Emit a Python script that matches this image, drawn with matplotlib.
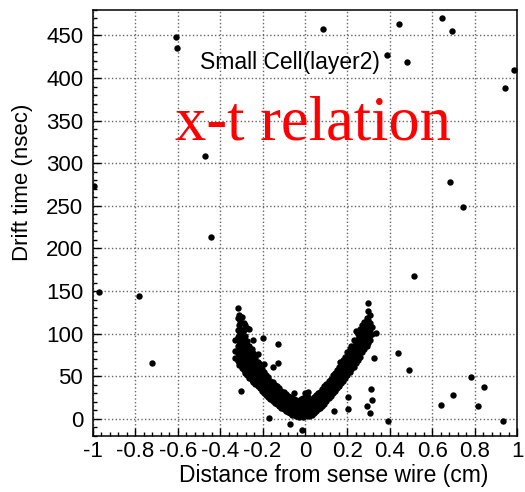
import numpy as np
import matplotlib.pyplot as plt
from matplotlib.ticker import MultipleLocator

# scattered hits away from the main band
outlier_x = [-0.995, -0.970, -0.783, -0.720, -0.608, -0.605, -0.470, -0.442,
             0.086, 0.388, 0.443, 0.483, 0.648, 0.693, 0.685, 0.747, 0.945,
             0.983, 0.516, 0.439, 0.491, 0.783, 0.844, 0.697, 0.640, 0.815,
             0.935, 0.390, 0.316, 0.294, 0.304, 0.310, 0.325, -0.171, -0.070,
             -0.012, 0.137, 0.204, 0.204, 0.165, 0.335, -0.300, -0.200,
             -0.128, -0.128, -0.150, 0.016, 0.016]
outlier_y = [273, 149, 144, 66, 448, 435, 309, 213,
             457, 427, 463, 419, 471, 455, 278, 249, 388,
             409, 168, 77, 57, 49, 37, 28, 16, 15,
             -3, -2, 22, 15, 7, 35, 72, 1.5, -6,
             -13, 9, 11, 26, 67, 101, 33, 95,
             88, 65, 61, 32, 26]

# the dense V-shaped band, read column by column (x, drift times)
band_left = [
    (-0.330, [92, 80, 72]),
    (-0.318, [130, 118, 104, 96, 86, 77, 68]),
    (-0.312, [122, 110, 99, 91, 83, 74, 63]),
    (-0.305, [115, 106, 94, 88, 79, 71, 65]),
    (-0.298, [119, 101, 93, 84, 76, 69, 60]),
    (-0.290, [113, 104, 95, 87, 80, 72, 63, 57]),
    (-0.282, [110, 97, 89, 82, 75, 68, 61, 54]),
    (-0.273, [107, 91, 84, 76, 69, 63, 57, 51]),
    (-0.263, [106, 86, 79, 72, 66, 60, 54, 48]),
    (-0.252, [82, 75, 68, 62, 57, 51, 46]),
    (-0.244, [92, 77, 70, 64, 58, 53, 48, 43]),
    (-0.235, [72, 65, 60, 55, 50, 45, 41]),
    (-0.224, [76, 67, 61, 56, 51, 46, 42, 38]),
    (-0.214, [64, 58, 53, 48, 44, 40, 36]),
    (-0.204, [59, 54, 49, 45, 41, 37, 33]),
    (-0.194, [64, 55, 50, 46, 42, 38, 34, 30]),
    (-0.183, [52, 47, 43, 39, 35, 32, 28]),
    (-0.174, [49, 44, 40, 36, 33, 29, 26]),
    (-0.163, [45, 41, 37, 34, 30, 27, 23]),
    (-0.153, [43, 38, 35, 31, 28, 25, 21]),
    (-0.143, [40, 36, 33, 29, 26, 22, 19]),
    (-0.132, [38, 34, 30, 27, 24, 20, 17]),
    (-0.122, [36, 32, 28, 25, 22, 18, 15]),
    (-0.112, [33, 30, 26, 23, 19, 16, 13]),
    (-0.101, [31, 28, 24, 21, 18, 14, 11]),
    (-0.092, [29, 26, 22, 19, 16, 12, 9]),
    (-0.081, [27, 24, 21, 17, 14, 11, 8]),
    (-0.071, [26, 22, 19, 16, 13, 9, 7]),
    (-0.061, [25, 21, 18, 15, 11, 8, 5]),
    (-0.050, [30, 23, 20, 16, 13, 10, 6]),
    (-0.041, [22, 19, 15, 12, 9, 5, 3]),
    (-0.030, [21, 18, 14, 11, 8, 5, 2]),
    (-0.020, [23, 18, 14, 10, 7, 4]),
    (-0.009, [24, 19, 15, 11, 8, 5, 2]),
    (0.000, [30, 22, 17, 13, 9, 6, 3]),
]
band_right = [
    (0.010, [24, 19, 15, 11, 8, 4]),
    (0.021, [21, 17, 13, 10, 6, 3]),
    (0.031, [23, 19, 15, 12, 8, 5]),
    (0.040, [26, 22, 18, 14, 11, 7]),
    (0.050, [28, 24, 20, 16, 13, 9]),
    (0.061, [30, 26, 22, 18, 14, 11]),
    (0.071, [32, 28, 24, 20, 16, 13]),
    (0.080, [35, 31, 27, 23, 19, 15]),
    (0.091, [38, 34, 30, 26, 22, 18]),
    (0.100, [41, 37, 33, 29, 25, 21]),
    (0.111, [44, 40, 36, 32, 28, 24]),
    (0.121, [47, 43, 39, 35, 31, 27]),
    (0.130, [51, 46, 42, 38, 34, 30]),
    (0.141, [54, 50, 45, 41, 37, 33]),
    (0.150, [57, 53, 48, 44, 40, 36]),
    (0.160, [61, 56, 52, 47, 43, 39]),
    (0.171, [65, 60, 55, 51, 46, 42]),
    (0.180, [69, 64, 59, 54, 50, 45]),
    (0.190, [73, 68, 63, 58, 53, 48]),
    (0.200, [78, 72, 67, 62, 56, 51]),
    (0.210, [82, 76, 71, 65, 60, 55]),
    (0.219, [86, 80, 75, 69, 63, 58]),
    (0.230, [92, 85, 79, 73, 67, 61]),
    (0.240, [103, 90, 84, 77, 71, 65]),
    (0.250, [100, 94, 88, 81, 75, 69]),
    (0.260, [106, 98, 92, 86, 79, 73]),
    (0.270, [110, 103, 96, 90, 84, 78]),
    (0.280, [114, 107, 100, 94, 88, 82]),
    (0.290, [118, 111, 104, 98, 92, 86]),
    (0.298, [136, 126, 116, 108, 101, 95, 89]),
    (0.306, [122, 112, 105, 99, 93]),
    (0.315, [108, 100]),
]

xs, ys = list(outlier_x), list(outlier_y)
for col_x, col_y in band_left + band_right:
    xs += [col_x] * len(col_y)
    ys += col_y

plt.rcParams['font.family'] = ['Liberation Sans', 'DejaVu Sans']

fig = plt.figure(figsize=(5.25, 4.92), dpi=100)
ax = fig.add_axes([0.177, 0.114, 0.808, 0.866])

ax.plot(xs, ys, 'o', color='black', markersize=4.6, markeredgewidth=0)

ax.set_xlim(-1, 1)
ax.set_ylim(-20, 480)
ax.xaxis.set_minor_locator(MultipleLocator(0.04))
ax.yaxis.set_major_locator(MultipleLocator(50))
ax.yaxis.set_minor_locator(MultipleLocator(10))
ax.set_xticks(np.arange(-1, 1.01, 0.2))
ax.set_xticklabels(['-1', '-0.8', '-0.6', '-0.4', '-0.2', '0',
                    '0.2', '0.4', '0.6', '0.8', '1'])

ax.grid(True, which='major', linestyle=':', color='#666666', linewidth=1.0)
ax.tick_params(which='both', direction='in', top=False, right=False,
               labelsize=16, width=1.0)
ax.tick_params(axis='x', which='major', length=6, pad=4)
ax.tick_params(axis='y', which='major', length=6, pad=7)
ax.tick_params(which='minor', length=3)
for s in ax.spines.values():
    s.set_linewidth(1.1)

ax.set_xlabel('Distance from sense wire (cm)', fontsize=16.5)
ax.set_ylabel('Drift time (nsec)', fontsize=16)
ax.xaxis.set_label_coords(0.568, -0.067)
ax.yaxis.set_label_coords(-0.142, 0.596)

ax.text(-0.07, 410, 'Small Cell(layer2)', fontsize=16.5, ha='center',
        va='baseline')
ax.text(0.038, 328, 'x-t relation', fontsize=45, color='red', ha='center',
        va='baseline', family='Liberation Serif')

fig.savefig('out.png', dpi=100)
